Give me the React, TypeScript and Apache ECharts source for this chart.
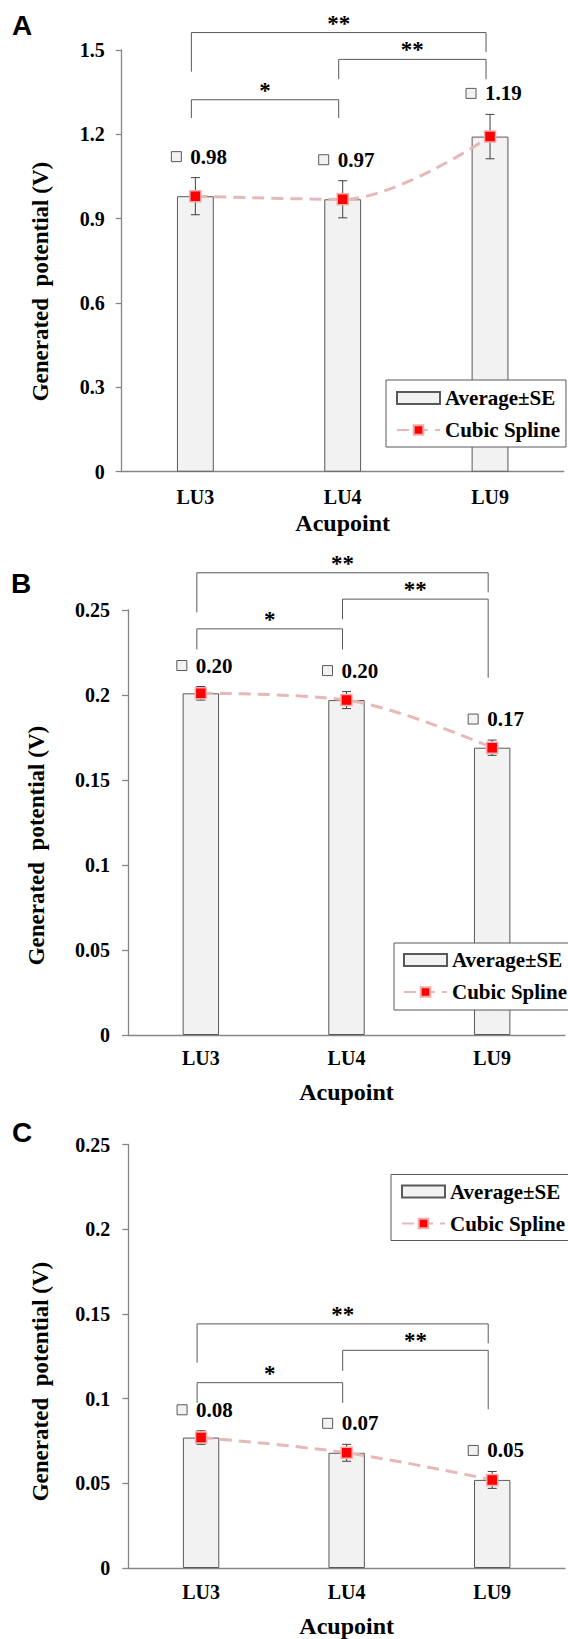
import React, { useEffect, useRef } from 'react';
import * as echarts from 'echarts';

// ---------- data ----------
const categories = ['LU3', 'LU4', 'LU9'];

const meanA = [0.98, 0.969, 1.192];
const seA = [0.066, 0.066, 0.079];
const meanB = [0.201, 0.197, 0.169];
const seB = [0.004, 0.005, 0.0045];
const meanC = [0.077, 0.068, 0.052];
const seC = [0.004, 0.005, 0.005];

const axisA = { min: 0, max: 1.5, interval: 0.3 };
const axisB = { min: 0, max: 0.25, interval: 0.05 };
const axisC = { min: 0, max: 0.25, interval: 0.05 };

// significance brackets: [fromIndex, toIndex, lineValue, leftLegEnd, rightLegEnd]
const bracketsA = [[0, 2, 1.562, 1.423, 1.4925], [1, 2, 1.4666, 1.396, 1.396], [0, 1, 1.323, 1.258, 1.258]];
const bracketsB = [[0, 2, 0.2719, 0.2486, 0.2604], [1, 2, 0.2564, 0.2446, 0.2102], [0, 1, 0.2389, 0.2268, 0.2268]];
const bracketsC = [[0, 2, 0.1441, 0.1212, 0.1327], [1, 2, 0.1285, 0.1164, 0.0937], [0, 1, 0.1094, 0.0975, 0.0975]];
const stars = ['**', '**', '*'];

const panelLetters = ['A', 'B', 'C'];
const barName = 'Average±SE';
const lineName = 'Cubic Spline';
const yTitle = 'Generated  potential (V)';
const xTitle = 'Acupoint';

// ---------- styling / layout ----------
const SERIF = '"Liberation Serif", "Times New Roman", serif';
const SANS = '"Liberation Sans", Arial, sans-serif';
const AXIS_GRAY = '#868686';
const DARK = '#595959';

const panels = [
  { mean: meanA, se: seA, axis: axisA, brackets: bracketsA,
    grid: { left: 121.7, top: 50, width: 442, height: 421.7 },
    legend: { left: 386, top: 380, padding: [7, 6, 6, 10] },
    yTitlePos: [40, 281.6], letterPos: [12, 25], nameGap: 39, labelMargin: 15, tickMargin: 17 },
  { mean: meanB, se: seB, axis: axisB, brackets: bracketsB,
    grid: { left: 128, top: 610, width: 437, height: 425 },
    legend: { left: 394, top: 943, padding: [6, 4, 7, 9] },
    yTitlePos: [36.5, 845.6], letterPos: [11, 583], nameGap: 45, labelMargin: 13, tickMargin: 18 },
  { mean: meanC, se: seC, axis: axisC, brackets: bracketsC,
    grid: { left: 128.3, top: 1144.5, width: 436.7, height: 426.5 },
    legend: { left: 391, top: 1174.5, padding: [6, 4, 6, 10] },
    yTitlePos: [40.8, 1381.5], letterPos: [12, 1132.5], nameGap: 46, labelMargin: 14, tickMargin: 18 },
];

const textBase = { fill: '#000', fontWeight: 'bold', fontFamily: SERIF };

function errorRender(params: any, api: any) {
  const i = api.value(0);
  const m = api.value(1);
  const s = api.value(2);
  const top = api.coord([i, m + s]);
  const bot = api.coord([i, m - s]);
  const x = top[0];
  const cap = 4.5;
  const ls = { stroke: '#404040', lineWidth: 1 };
  const ly = top[1] - 21;
  return {
    type: 'group',
    children: [
      { type: 'line', shape: { x1: x, y1: top[1], x2: x, y2: bot[1] }, style: ls },
      { type: 'line', shape: { x1: x - cap, y1: top[1], x2: x + cap, y2: top[1] }, style: ls },
      { type: 'line', shape: { x1: x - cap, y1: bot[1], x2: x + cap, y2: bot[1] }, style: ls },
      { type: 'rect', shape: { x: x - 24, y: ly - 5, width: 10, height: 10 }, style: { fill: '#f2f2f2', stroke: DARK, lineWidth: 1 } },
      { type: 'text', x: x - 5, y: ly, style: { ...textBase, text: m.toFixed(2), fontSize: 21, textAlign: 'left', textVerticalAlign: 'middle', align: 'left', verticalAlign: 'middle' } },
    ],
  };
}

function bracketRender(params: any, api: any) {
  const a = api.value(0);
  const b = api.value(1);
  const yl = api.value(2);
  const la = api.value(3);
  const lb = api.value(4);
  const pA = api.coord([a, yl]);
  const pB = api.coord([b, yl]);
  const off = -4;
  const xa = pA[0] + off;
  const xb = pB[0] + off;
  const y = pA[1];
  const ya = api.coord([a, la])[1];
  const yb = api.coord([b, lb])[1];
  const ls = { stroke: DARK, lineWidth: 1, fill: 'none' };
  return {
    type: 'group',
    children: [
      { type: 'polyline', shape: { points: [[xa, ya], [xa, y], [xb, y], [xb, yb]] }, style: ls },
      { type: 'text', x: (xa + xb) / 2, y: y + 2, style: { ...textBase, text: stars[params.dataIndex], fontSize: 23, textAlign: 'center', textVerticalAlign: 'bottom', align: 'center', verticalAlign: 'bottom' } },
    ],
  };
}

function buildOption() {
  const grid: any[] = [];
  const xAxis: any[] = [];
  const yAxis: any[] = [];
  const series: any[] = [];
  const legend: any[] = [];
  const graphic: any[] = [];

  panels.forEach((p, k) => {
    grid.push({ ...p.grid, containLabel: false });
    xAxis.push({
      type: 'category', gridIndex: k, data: categories, boundaryGap: true,
      axisLine: { lineStyle: { color: AXIS_GRAY, width: 1.3 } },
      axisTick: { show: false },
      axisLabel: { ...textBase, color: '#000', fontSize: 20, margin: p.labelMargin },
      name: xTitle, nameLocation: 'middle', nameGap: p.nameGap,
      nameTextStyle: { color: '#000', fontWeight: 'bold', fontFamily: SERIF, fontSize: 24 },
    });
    yAxis.push({
      type: 'value', gridIndex: k, min: p.axis.min, max: p.axis.max, interval: p.axis.interval,
      axisLine: { show: true, lineStyle: { color: AXIS_GRAY, width: 1.3 } },
      axisTick: { show: true, length: 6, lineStyle: { color: AXIS_GRAY, width: 1.3 } },
      splitLine: { show: false },
      axisLabel: { color: '#000', fontWeight: 'bold', fontFamily: SERIF, fontSize: 20, margin: p.tickMargin },
    });
    series.push({
      type: 'bar', name: barName, xAxisIndex: k, yAxisIndex: k, data: p.mean, barWidth: '25%', z: 1,
      itemStyle: { color: '#f2f2f2', borderColor: DARK, borderWidth: 1 },
    });
    series.push({
      type: 'custom', name: 'errors' + k, xAxisIndex: k, yAxisIndex: k, z: 2, clip: false,
      renderItem: errorRender, encode: { x: 0, y: [1] },
      data: p.mean.map((m, i) => [i, m, p.se[i]]),
    });
    series.push({
      type: 'line', name: lineName, xAxisIndex: k, yAxisIndex: k, data: p.mean, z: 3,
      smooth: 0.35, symbol: 'rect', symbolSize: 11,
      lineStyle: { color: '#e6b9b8', width: 3, type: [12, 7] },
      itemStyle: { color: '#ff0000', borderColor: '#f2aaaa', borderWidth: 1.5 },
    });
    series.push({
      type: 'custom', name: 'brackets' + k, xAxisIndex: k, yAxisIndex: k, z: 2, clip: false,
      renderItem: bracketRender, encode: { x: [0, 1], y: [2] },
      data: p.brackets,
    });
    legend.push({
      left: p.legend.left, top: p.legend.top, padding: p.legend.padding,
      orient: 'vertical', itemWidth: 43, itemHeight: 12, itemGap: 10,
      borderColor: DARK, borderWidth: 1, backgroundColor: '#fff', z: 10,
      textStyle: { color: '#000', fontWeight: 'bold', fontFamily: SERIF, fontSize: 21, lineHeight: 22 },
      data: [{ name: barName, icon: 'rect' }, { name: lineName }],
    });
    graphic.push({
      type: 'text', x: p.yTitlePos[0], y: p.yTitlePos[1], rotation: Math.PI / 2,
      style: { ...textBase, text: yTitle, fontSize: 23, textAlign: 'center', textVerticalAlign: 'middle', align: 'center', verticalAlign: 'middle' },
    });
    graphic.push({
      type: 'text', x: p.letterPos[0], y: p.letterPos[1],
      style: { fill: '#000', fontWeight: 'bold', fontFamily: SANS, fontSize: 28, text: panelLetters[k], textAlign: 'left', textVerticalAlign: 'middle', align: 'left', verticalAlign: 'middle' },
    });
  });

  return { animation: false, backgroundColor: '#fff', grid, xAxis, yAxis, series, legend, graphic };
}

export default function App() {
  const ref = useRef<HTMLDivElement>(null);
  useEffect(() => {
    if (!ref.current) return;
    const chart = echarts.init(ref.current, undefined, { renderer: 'svg' });
    chart.setOption(buildOption() as any);
    return () => chart.dispose();
  }, []);
  return <div ref={ref} style={{ position: 'absolute', left: 0, top: 0, width: 568, height: 1639 }} />;
}
